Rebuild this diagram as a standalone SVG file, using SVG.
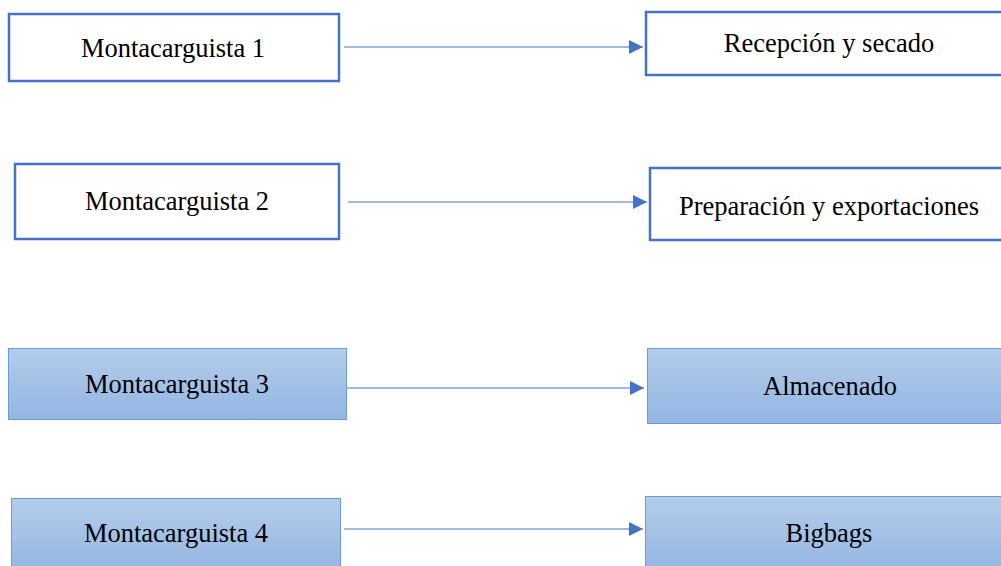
<svg xmlns="http://www.w3.org/2000/svg" width="1001" height="566" viewBox="0 0 1001 566">
<style>
.w{fill:#fff;stroke:#4472C4;stroke-width:2.5}
.b{fill:url(#g);stroke:#6A9BDB;stroke-width:1}
text{font-family:"Liberation Serif","Times New Roman",serif;font-size:26.5px;fill:#000;text-anchor:middle}
.c{stroke:#4472C4;stroke-width:1.2;fill:none;marker-end:url(#a)}
</style>
<defs>
<linearGradient id="g" x1="0" y1="0" x2="0" y2="1">
<stop offset="0" stop-color="#B4CCEA"/>
<stop offset="1" stop-color="#93B6E2"/>
</linearGradient>
<marker id="a" viewBox="0 0 10 10" refX="10" refY="5" markerWidth="14" markerHeight="14" markerUnits="userSpaceOnUse" orient="auto">
<path d="M0,0L10,5L0,10z" fill="#4472C4"/>
</marker>
</defs>
<g id="connectors">
<line class="c" x1="344" y1="47" x2="643" y2="47"/>
<line class="c" x1="348" y1="202" x2="647" y2="202"/>
<line class="c" x1="347" y1="388" x2="644" y2="388"/>
<line class="c" x1="344" y1="529" x2="643" y2="529"/>
</g>
<g id="m1"><rect class="w" x="9" y="14" width="330" height="67"/><text x="173" y="57">Montacarguista 1</text></g>
<g id="recepcion"><rect class="w" x="646" y="12" width="360" height="63"/><text x="829" y="52">Recepción y secado</text></g>
<g id="m2"><rect class="w" x="15" y="164" width="324" height="75"/><text x="177" y="210">Montacarguista 2</text></g>
<g id="preparacion"><rect class="w" x="650" y="168" width="360" height="72"/><text x="829" y="215">Preparación y exportaciones</text></g>
<g id="m3"><rect class="b" x="8.5" y="348.5" width="338" height="71"/><text x="177" y="393">Montacarguista 3</text></g>
<g id="almacenado"><rect class="b" x="647.5" y="348.5" width="360" height="75"/><text x="830" y="395">Almacenado</text></g>
<g id="m4"><rect class="b" x="11.5" y="498.5" width="329" height="75"/><text x="176" y="542">Montacarguista 4</text></g>
<g id="bigbags"><rect class="b" x="645.5" y="496.5" width="360" height="77"/><text x="829" y="542">Bigbags</text></g>
</svg>
